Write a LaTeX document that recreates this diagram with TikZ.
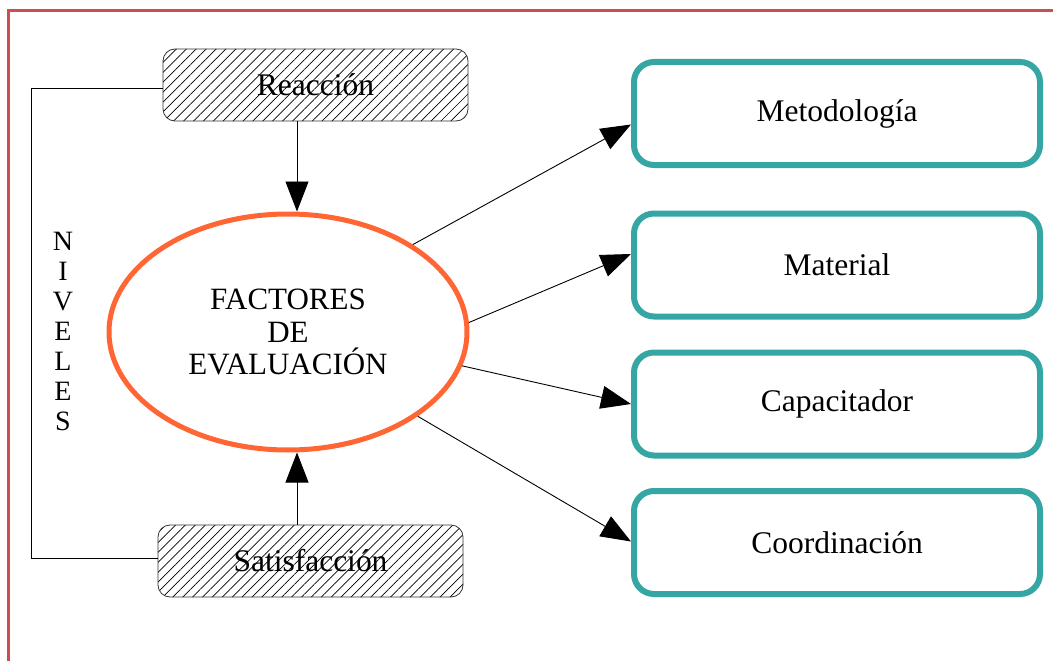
\documentclass[tikz,border=0pt]{standalone}
\usepackage{fontspec}
\setmainfont{Liberation Serif}
\usetikzlibrary{shapes.geometric,arrows.meta,patterns.meta}
\definecolor{frame}{HTML}{C85050}
\definecolor{orng}{HTML}{FF6633}
\definecolor{teal2}{HTML}{35A6A3}
\tikzset{
  hatchbox/.style={draw=black!80, line width=0.8pt, rounded corners=12pt,
    pattern={Lines[angle=45,distance=7pt,line width=0.7pt]},
    minimum width=305pt, minimum height=72pt, inner sep=0pt,
    font=\fontsize{31.5}{34}\selectfont},
  factorbox/.style={draw=teal2, line width=6pt, rounded corners=20pt,
    minimum width=406pt, minimum height=103pt, inner sep=0pt,
    font=\fontsize{31.5}{34}\selectfont},
  arr/.style={line width=0.9pt, -{Triangle[length=30pt,width=23pt]}},
  link/.style={line width=0.9pt}
}
\begin{document}
\begin{tikzpicture}[x=1pt,y=-1pt]
\useasboundingbox (0,0) rectangle (1053,661);
\fill[white] (0,0) rectangle (1053,661);
\draw[frame, line width=3pt] (1060,11) -- (8,11) -- (8,670);

\node[hatchbox] (R) at (315.5,85) {Reacción};
\node[hatchbox] (S) at (310.5,561) {Satisfacción};

\node[draw=orng, line width=5pt, ellipse, minimum width=358pt, minimum height=236pt,
  inner sep=0pt, align=center, font=\fontsize{31}{32.5}\selectfont] (E) at (288,332)
  {FACTORES\\DE\\EVALUACIÓN};

\node[factorbox] (M1) at (837,113.5) {Metodología};
\node[factorbox] (M2) at (837,265) {Material};
\node[factorbox] (M3) at (837,404) {Capacitador};
\node[factorbox] (M4) at (837,542.5) {Coordinación};

\node[align=center, font=\fontsize{28}{30}\selectfont] (N) at (63,331)
  {N\\I\\V\\E\\L\\E\\S};

\coordinate (c1) at (31,88);
\coordinate (c2) at (31,558);
\draw[link] ([yshift=-3]R.west) -- (c1) -- (c2) -- ([yshift=3]S.west);

\draw[arr] ([xshift=-18.5]R.south) -- ([xshift=9]E.north);
\draw[arr] ([xshift=-13.5]S.north) -- ([xshift=9]E.south);

\draw[arr] (E.35) -- ([yshift=-11]M1.west);
\draw[arr] (E.3) -- ([yshift=11]M2.west);
\draw[arr] (E.-11) -- (M3.west);
\draw[arr] (E.-33) -- ([yshift=1]M4.west);
\end{tikzpicture}
\end{document}
